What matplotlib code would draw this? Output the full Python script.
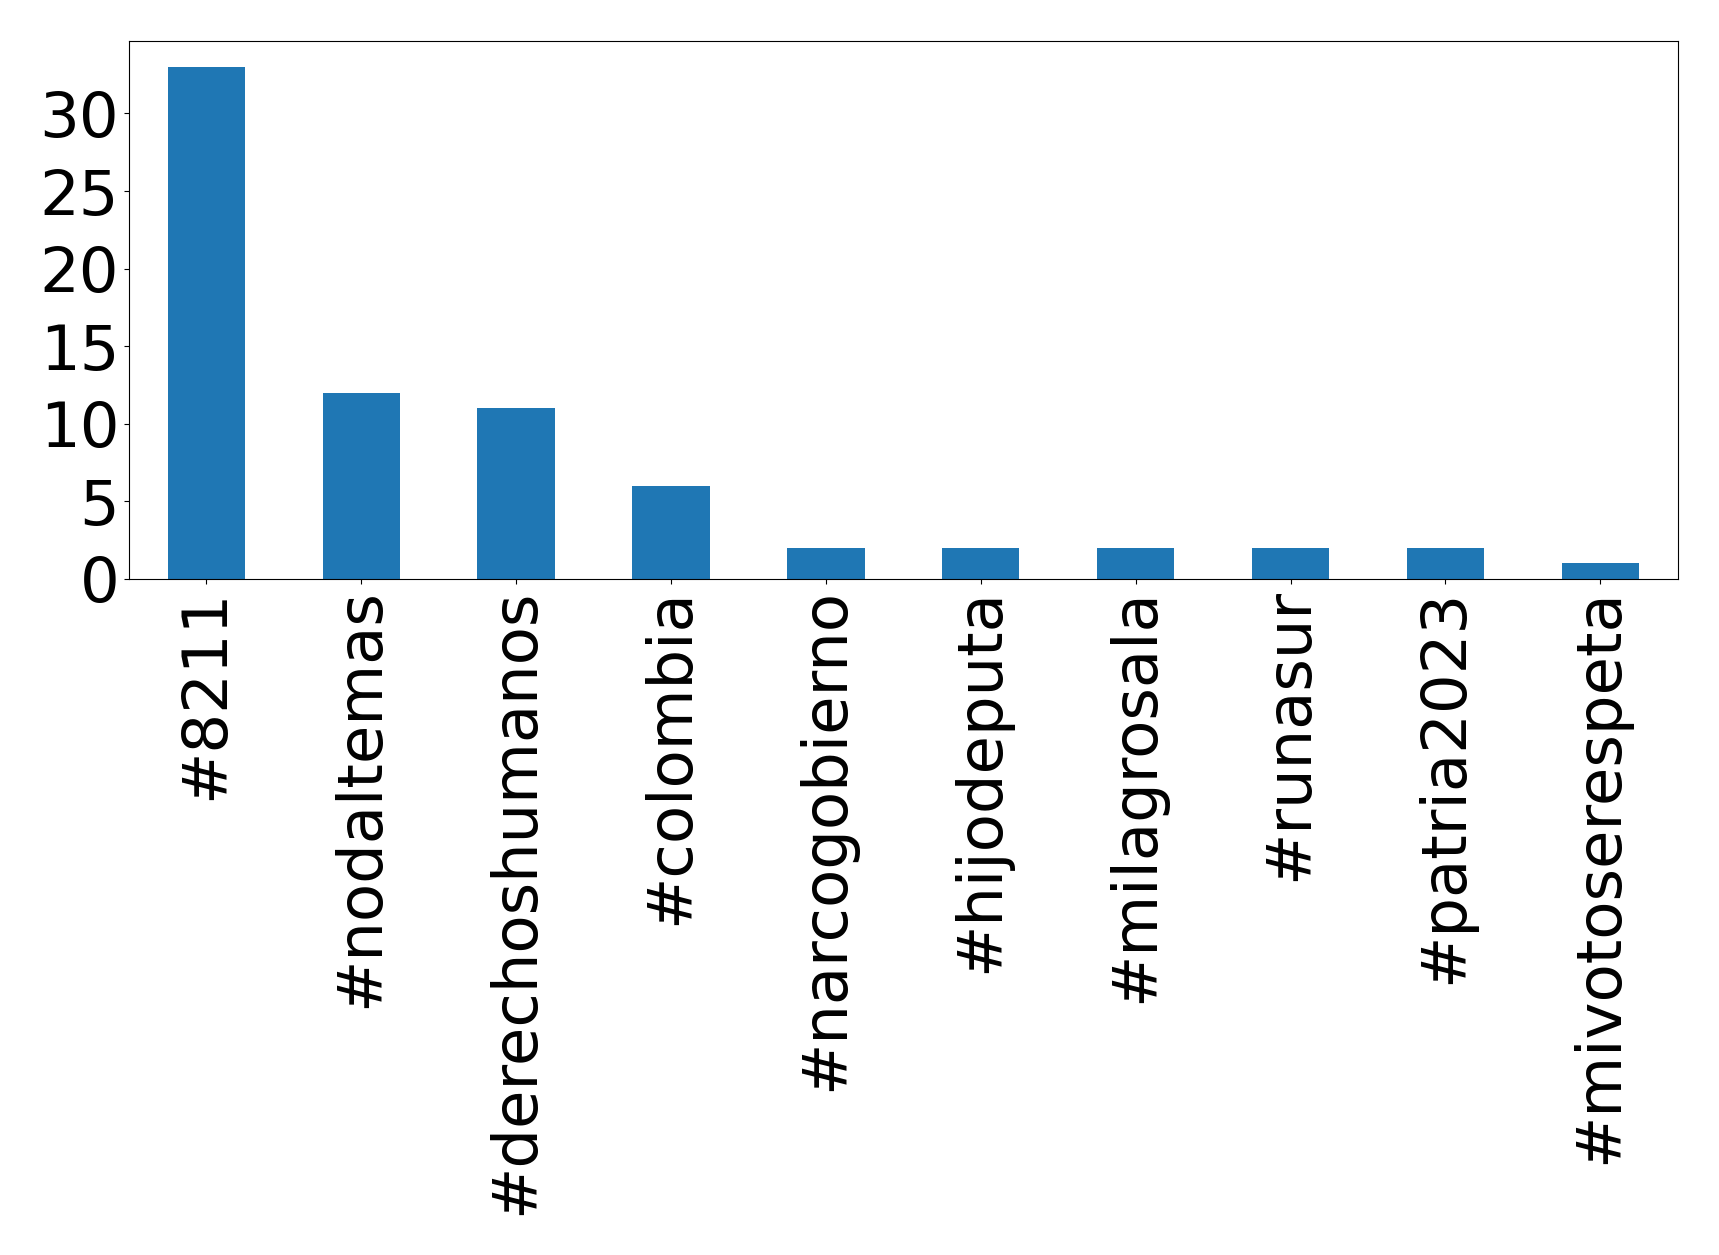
import matplotlib
matplotlib.use("Agg")
import matplotlib.pyplot as plt

hashtags = ["#8211", "#nodaltemas", "#derechoshumanos", "#colombia", "#narcogobierno",
            "#hijodeputa", "#milagrosala", "#runasur", "#patria2023", "#mivotoserespeta"]
counts = [33, 12, 11, 6, 2, 2, 2, 2, 2, 1]
yticks = [0, 5, 10, 15, 20, 25, 30]

fig = plt.figure(figsize=(17.19, 12.55), dpi=100)
ax = fig.add_axes([0.075, 0.539, 0.901, 0.428])

x = list(range(len(hashtags)))
ax.bar(x, counts, width=0.5, color="#1f77b4")
ax.set_xlim(-0.5, len(hashtags) - 0.5)
ax.set_xticks(x)
ax.set_xticklabels(hashtags, rotation=90, fontsize=45)
ax.set_yticks(yticks)
ax.tick_params(axis="y", labelsize=45)

fig.savefig("out.png", dpi=100)
